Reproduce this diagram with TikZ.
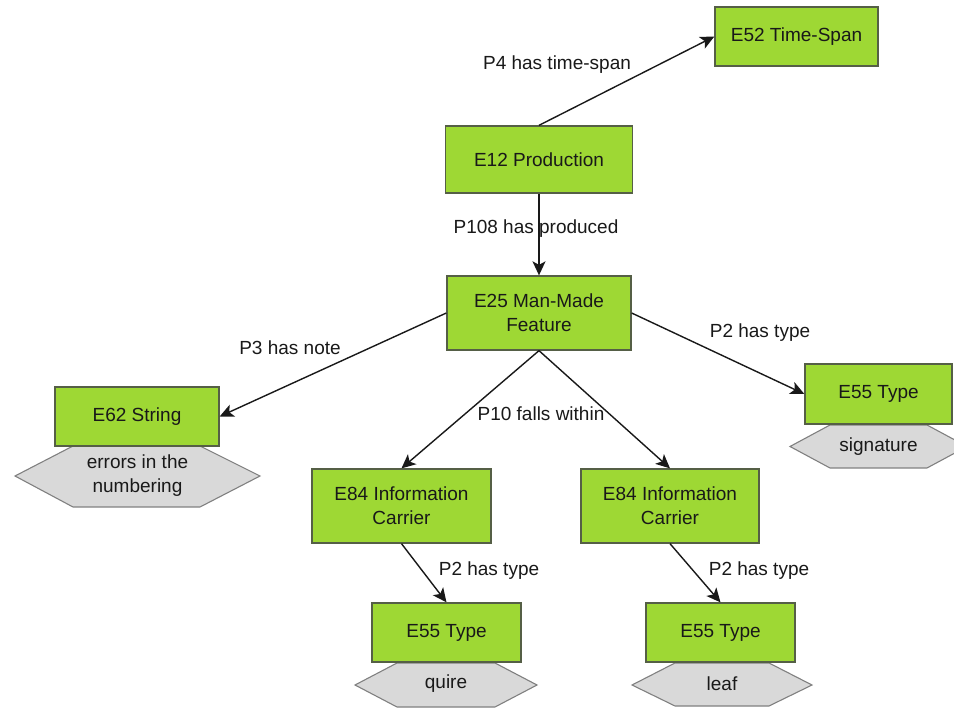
\documentclass[tikz,border=0pt]{standalone}
\usepackage{fontspec}
\setmainfont{Liberation Sans}
\usetikzlibrary{arrows.meta}
\definecolor{entgreen}{RGB}{158,216,52}
\definecolor{entborder}{RGB}{85,95,70}
\definecolor{hexfill}{RGB}{217,217,217}
\definecolor{hexborder}{RGB}{128,128,128}
\definecolor{txt}{RGB}{25,25,25}
\begin{document}
\begin{tikzpicture}[x=1pt,y=-1pt,
  every node/.style={font=\fontsize{19}{24}\selectfont, text=txt},
  ent/.style={draw=entborder, fill=entgreen, line width=1.3pt, align=center, inner sep=0pt},
  hexa/.style={draw=hexborder, fill=hexfill, line width=1.1pt},
  lbl/.style={inner sep=0pt},
  rel/.style={draw=black!90, line width=1.4pt, -{Stealth[length=14pt,width=13pt,inset=3.5pt]}}]
\useasboundingbox (0,0) rectangle (954,708);
\fill[white] (0,0) rectangle (954,708);

% literal hexagons
\draw[hexa] (15,476) -- (73,446) -- (200,446) -- (260,476) -- (200,507) -- (73,507) -- cycle;
\node[align=center] (herr) at (137.5,476) {errors in the\\numbering};
\draw[hexa] (790,446.5) -- (830,425) -- (927,425) -- (967,446.5) -- (927,468) -- (830,468) -- cycle;
\node (hsig) at (878.5,446.5) {signature};
\draw[hexa] (355,685) -- (397,663) -- (495,663) -- (537,685) -- (495,707) -- (397,707) -- cycle;
\node (hquire) at (446,684) {quire};
\draw[hexa] (632,685) -- (675,663) -- (769,663) -- (812,685) -- (769,706) -- (675,706) -- cycle;
\node (hleaf) at (722,684) {leaf};

% entity boxes
\node[ent, minimum width=163pt, minimum height=59pt] (e52) at (796.5,36.5) {E52 Time-Span};
\node[ent, minimum width=187pt, minimum height=67pt] (e12) at (539,159.5) {E12 Production};
\node[ent, minimum width=184pt, minimum height=74pt] (e25) at (539,313) {E25 Man-Made\\Feature};
\node[ent, minimum width=164pt, minimum height=59pt] (e62) at (137,416.5) {E62 String};
\node[ent, minimum width=147pt, minimum height=60pt] (sig) at (878.5,394) {E55 Type};
\node[ent, minimum width=179pt, minimum height=74pt] (e84l) at (401.5,506) {E84 Information\\Carrier};
\node[ent, minimum width=178pt, minimum height=74pt] (e84r) at (670,506) {E84 Information\\Carrier};
\node[ent, minimum width=149pt, minimum height=59pt] (quire) at (446.5,632.5) {E55 Type};
\node[ent, minimum width=149pt, minimum height=59pt] (leaf) at (720.5,632.5) {E55 Type};

% relations
\draw[rel] (e12.north) -- (e52.west);
\draw[rel] (e12.south) -- (e25.north);
\draw[rel] (e25.west) -- (e62.east);
\draw[rel] (e25.east) -- (sig.west);
\draw[rel] (e25.south) -- (e84l.north);
\draw[rel] (e25.south) -- (e84r.north);
\draw[rel] (e84l.south) -- (quire.north);
\draw[rel] (e84r.south) -- (leaf.north);

% labels
\node[lbl] (l1) at (557,65) {P4 has time-span};
\node[lbl] (l2) at (536,229) {P108 has produced};
\node[lbl] (l3) at (290,348) {P3 has note};
\node[lbl] (l4) at (760,333) {P2 has type};
\node[lbl] (l5) at (541,414) {P10 falls within};
\node[lbl] (l6) at (489,571) {P2 has type};
\node[lbl] (l7) at (759,571) {P2 has type};
\end{tikzpicture}
\end{document}
